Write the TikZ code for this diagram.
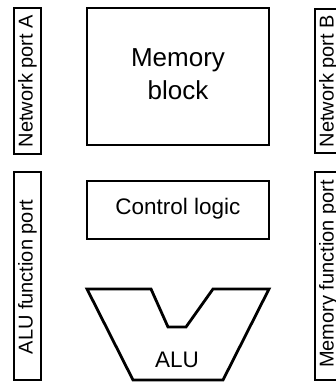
\documentclass[tikz,border=0pt]{standalone}
\usepackage{fontspec}
\setmainfont{Liberation Sans}
\begin{document}
\begin{tikzpicture}[x=1pt,y=-1pt,
  blk/.style={draw=black,line width=2.8pt,line join=miter},
  vlabel/.style={rotate=90,font=\fontsize{20}{23}\selectfont,inner sep=0pt},
  hlabel/.style={font=\fontsize{22.5}{26}\selectfont,inner sep=0pt,align=center}]
\useasboundingbox (0,0) rectangle (336,383);
\clip (0,0) rectangle (336,383);
% side ports
\draw[blk] (14,8) rectangle (41,154);
\node[vlabel] (netA) at (27.5,81) {Network port A};
\draw[blk] (14,172) rectangle (41,380);
\node[vlabel] (aluport) at (27.5,277) {ALU function port};
\draw[blk] (315,9) rectangle (342,153);
\node[vlabel] (netB) at (328.5,81) {Network port B};
\draw[blk] (315,172) rectangle (342,380);
\node[vlabel] (memport) at (328.5,274) {Memory function port};
% central blocks
\draw[blk] (87,8) rectangle (269,145);
\node[hlabel,font=\fontsize{26}{33}\selectfont] (mem) at (178,74) {Memory\\block};
\draw[blk] (87,181) rectangle (269,239);
\node[hlabel] (ctl) at (178,209) {Control logic};
% ALU outline
\draw[blk] (87,289) -- (151,289) -- (168,327) -- (186,327) -- (213,289)
  -- (269,289) -- (223,380) -- (133,380) -- cycle;
\node[hlabel] (alu) at (177,360) {ALU};
\end{tikzpicture}
\end{document}
